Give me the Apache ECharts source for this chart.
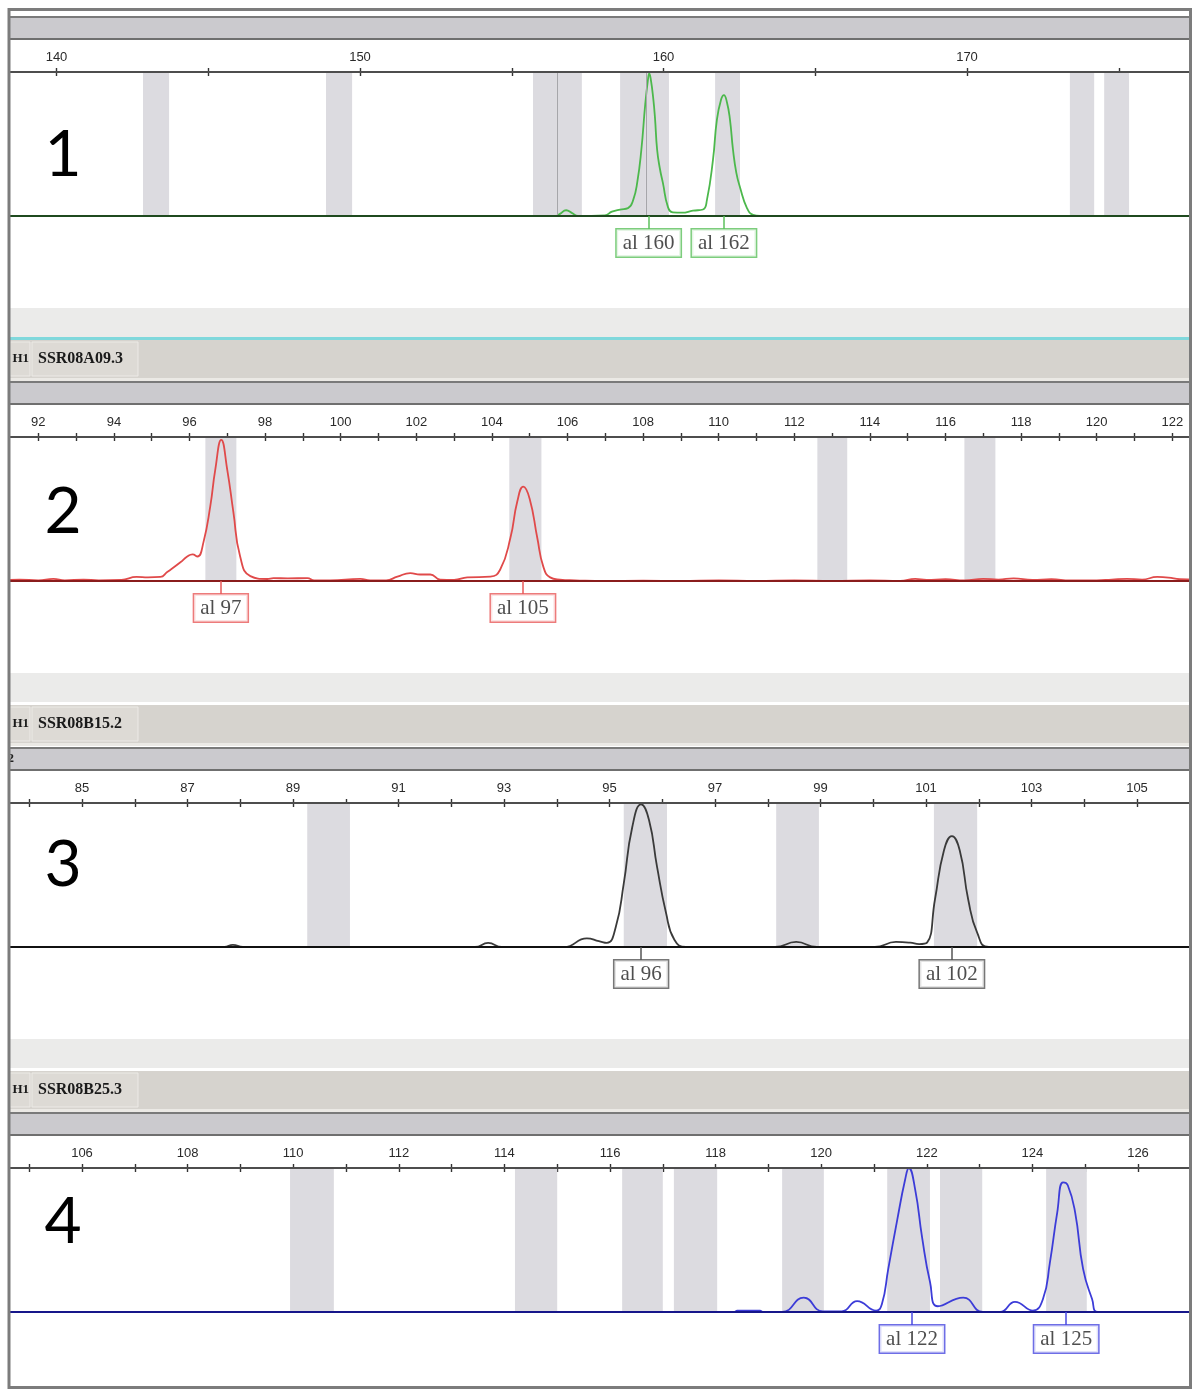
<!DOCTYPE html>
<html><head><meta charset="utf-8">
<script src="https://cdn.jsdelivr.net/npm/echarts@6/dist/echarts.min.js"></script>
<style>html,body{margin:0;padding:0;background:#fff}#c{width:1200px;height:1399px}</style>
</head><body><div id="c"></div>
<script>
// ---------------- DATA ----------------
const panelNumbers = ['1', '2', '3', '4'];
const markerNames = ['SSR08A09.3', 'SSR08B15.2', 'SSR08B25.3'];

// axis ranges (size in bp)
const axisMin = [135, 91, 83, 104];
const axisMax = [180, 123, 107, 128];
const tickStep = [5, 1, 1, 1];
const labelStep = [10, 2, 2, 2];
const labelBase = [140, 92, 85, 106];

// traces: [size, relative fluorescence]
const trace1 = [[135,0],[156.43,0],[156.59,1.5],[156.79,4],[156.99,2],[157.18,0],[158.07,0.5],[158.30,3],[158.57,4.5],[158.83,5.5],
 [159.0,11],[159.14,24],[159.27,46],[159.40,78],[159.49,95],[159.53,99],[159.58,95],[159.66,82],[159.72,68],[159.79,46],[159.88,33],[159.98,23],[160.15,6],[160.31,2.5],
 [160.61,2.3],[160.97,3.7],[161.30,4.5],[161.43,11],[161.63,39],[161.76,67],[161.90,81],[161.99,84],[162.09,79],[162.19,67],[162.29,46],[162.40,30],[162.52,20],[162.75,5.5],[162.95,0.8],[163.18,0],[180,0]];
const trace2 = [[91,0.5],[91.5,1],[92.0,0.5],[92.4,1.5],[92.7,0.5],[93.2,1],[93.6,0.5],[94.2,0.8],[94.6,2.8],[94.9,2.5],[95.23,2.8],[95.41,6.2],[95.76,13],[95.94,17],[96.08,18.5],[96.21,17],
 [96.37,27],[96.55,52],[96.68,77],[96.84,98],[97.0,77],[97.16,48],[97.34,17],[97.61,3.4],[98.06,1.4],[98.22,2],[98.6,1.8],[99.12,2],[99.3,0.5],[99.72,0.5],[100.52,1.5],[100.78,0.5],
 [101.2,0.5],[101.5,3],[101.84,5.5],[102.1,4.5],[102.37,4.5],[102.63,1],[103.0,0.8],[103.35,2.5],[103.96,3],[104.22,8],[104.49,30],[104.67,55],[104.83,65.5],[105.0,57],[105.2,30],
 [105.36,10],[105.54,2.5],[105.8,1],[106.2,0.5],[107,0],[108,0.3],[109,0],[110,0.4],[111,0],[112,0.5],[113,0],[114,0.4],[114.8,0],[115.2,1.5],[115.5,0.8],[116,1.2],[116.5,0.5],
 [117.0,1.5],[117.4,1],[117.8,1.8],[118.3,0.8],[118.8,1.2],[119.3,0.5],[120.0,0.5],[120.4,1],[120.8,1.5],[121.2,1.0],[121.6,2.8],[121.9,2.4],[122.2,1.2],[122.6,1],[123,0.5]];
const trace3 = [[83,0],[87.7,0],[87.86,1.5],[88.05,0],[92.45,0],[92.70,2.8],[92.96,0],[94.14,0],[94.57,6],[94.80,4],[94.95,2.8],[95.12,14],[95.27,44],[95.43,83],[95.60,99],[95.75,88],
 [95.90,56],[96.07,24],[96.23,5],[96.45,0],[98.14,0],[98.54,3.5],[98.93,0],[100.03,0],[100.43,3.5],[100.7,3],[100.87,2],[101.02,3],[101.17,33],[101.34,67],[101.49,77],[101.64,67],
 [101.80,33],[101.97,10],[102.19,0],[107,0]];
const trace4 = [[104,0],[118.35,0],[118.41,1],[118.84,1],[118.9,0],[119.26,0],[119.67,10],[120.03,0.5],[120.39,0.5],[120.68,7.6],[121.04,1],[121.15,5.5],[121.27,30],[121.44,64],
 [121.59,92],[121.66,100],[121.78,85],[121.91,52],[122.06,21],[122.21,4],[122.69,10],[123.06,0],[123.39,0],[123.67,7],[124.01,1],[124.20,9],[124.33,34],[124.47,69],[124.58,90],
 [124.67,88],[124.81,69],[124.96,30],[125.13,9],[125.24,0],[128,0]];

// allele bins [from, to]
const bins1 = [[142.85,143.71],[148.88,149.74],[155.70,156.49],[156.49,157.31],[158.57,159.42],[159.42,160.18],[161.70,162.52],[173.39,174.19],[174.52,175.34]];
const dividers1 = [156.49, 159.42];
const bins2 = [[96.42,97.24],[104.46,105.31],[112.61,113.40],[116.50,117.32]];
const bins3 = [[89.27,90.08],[95.27,96.09],[98.16,98.97],[101.15,101.97]];
const bins4 = [[109.94,110.77],[114.20,115.0],[116.23,117.0],[117.21,118.03],[119.26,120.05],[121.25,122.06],[122.25,123.05],[124.26,125.03]];

// called alleles [size, label]
const alleles1 = [[159.51,'al 160'],[161.99,'al 162']];
const alleles2 = [[96.83,'al 97'],[104.82,'al 105']];
const alleles3 = [[95.60,'al 96'],[101.49,'al 102']];
const alleles4 = [[121.72,'al 122'],[124.64,'al 125']];

// ---------------- LAYOUT / STYLE ----------------
const traces = [trace1, trace2, trace3, trace4];
const binsAll = [bins1, bins2, bins3, bins4];
const dividersAll = [dividers1, [], [], []];
const allelesAll = [alleles1, alleles2, alleles3, alleles4];

const axisY = [72, 437, 803, 1168];
const refPx = [56.5, 38.3, 82, 82];
const ppu = [30.35, 37.8, 52.75, 52.8];
const traceColor = ['#4cb84c', '#e04a4a', '#3a3a3a', '#3c3cd8'];
const baseColor = ['#1f4a1f', '#8a1c1c', '#111111', '#16168a'];
const boxColor = ['#5cc05c', '#e85a5a', '#555555', '#4a4ae0'];
const numberY = [155, 512, 865, 1222];

const Y_MIN = -25, Y_MAX = 100;
const grids = [], xAxes = [], yAxes = [], series = [], graphics = [];

for (let i = 0; i < 4; i++) {
  const A = axisY[i];
  const left = refPx[i] - (labelBase[i] - axisMin[i]) * ppu[i];
  const width = (axisMax[i] - axisMin[i]) * ppu[i];
  grids.push({left: left, top: A, width: width, height: 180, containLabel: false, outerBoundsMode: 'none'});
  const base = labelBase[i], ls = labelStep[i];
  xAxes.push({
    type: 'value', gridIndex: i, position: 'top', offset: -4,
    min: axisMin[i], max: axisMax[i], interval: tickStep[i],
    axisLine: {show: false, onZero: false},
    axisTick: {show: true, length: 8, lineStyle: {color: '#333', width: 1.4}},
    axisLabel: {show: true, margin: 12, fontSize: 13, fontFamily: 'Liberation Sans', color: '#2a2a2a',
      formatter: function (v) { const r = Math.abs((v - base) % ls); return (r < 1e-6 || Math.abs(r - ls) < 1e-6) ? String(Math.round(v)) : ''; }},
    splitLine: {show: false}
  });
  yAxes.push({type: 'value', gridIndex: i, min: Y_MIN, max: Y_MAX, show: false, splitLine: {show: false}});

  // bins + dividers
  series.push({
    type: 'line', xAxisIndex: i, yAxisIndex: i, data: [], silent: true, z: 1,
    markArea: {silent: true, itemStyle: {color: '#dcdbe0'},
      data: binsAll[i].map(b => [{xAxis: b[0], yAxis: 0}, {xAxis: b[1], yAxis: Y_MAX}])},
    markLine: {silent: true, symbol: 'none', label: {show: false}, animation: false,
      lineStyle: {color: '#a6a6aa', width: 1, type: 'solid'},
      data: dividersAll[i].map(d => [{coord: [d, 0]}, {coord: [d, Y_MAX]}])}
  });
  // top axis line
  series.push({
    type: 'line', xAxisIndex: i, yAxisIndex: i, data: [], silent: true, z: 2,
    markLine: {silent: true, symbol: 'none', label: {show: false}, animation: false,
      lineStyle: {color: '#4d4d4d', width: 2, type: 'solid'}, data: [{yAxis: Y_MAX}]}
  });
  // trace
  series.push({
    type: 'line', xAxisIndex: i, yAxisIndex: i, data: traces[i], symbol: 'none', showSymbol: false,
    smooth: 0.5, silent: true, z: 3,
    lineStyle: {color: traceColor[i], width: 1.8}
  });
  // baseline
  series.push({
    type: 'line', xAxisIndex: i, yAxisIndex: i, data: [], silent: true, z: 4,
    markLine: {silent: true, symbol: 'none', label: {show: false}, animation: false,
      lineStyle: {color: baseColor[i], width: 2, type: 'solid'}, data: [{yAxis: 0}]}
  });
  // connectors
  series.push({
    type: 'line', xAxisIndex: i, yAxisIndex: i, data: [], silent: true, z: 4,
    markLine: {silent: true, symbol: 'none', label: {show: false}, animation: false,
      lineStyle: {color: boxColor[i], width: 1.5, type: 'solid'},
      data: allelesAll[i].map(a => [{coord: [a[0], 0]}, {coord: [a[0], -9]}])}
  });
  // allele label boxes
  series.push({
    type: 'scatter', xAxisIndex: i, yAxisIndex: i, silent: true, z: 5,
    data: allelesAll[i].map(a => [a[0], -9, a[1]]),
    symbolSize: 1, itemStyle: {color: 'rgba(0,0,0,0)'},
    label: {show: true, position: 'bottom', distance: 0,
      formatter: p => p.value[2],
      fontFamily: 'Liberation Serif', fontSize: 21, lineHeight: 24, color: '#222',
      borderColor: boxColor[i], borderWidth: 1.5, padding: [2, 6, 1, 6], backgroundColor: '#fff'}
  });

  // chrome: toolbar above the axis
  graphics.push({type: 'rect', shape: {x: 10, y: A - 56, width: 1180, height: 2}, style: {fill: '#7a7a7a'}, z: 50});
  graphics.push({type: 'rect', shape: {x: 10, y: A - 54, width: 1180, height: 20}, style: {fill: '#cbcace'}, z: 50});
  graphics.push({type: 'rect', shape: {x: 10, y: A - 34, width: 1180, height: 2}, style: {fill: '#6f6f6f'}, z: 50});
  // panel number
  graphics.push({type: 'text', x: 63, y: numberY[i], z: 60,
    style: {text: panelNumbers[i], font: '64px Lato', fill: '#000', textAlign: 'center', textVerticalAlign: 'middle'}});
  if (i < 3) {
    graphics.push({type: 'rect', shape: {x: 10, y: A + 236, width: 1180, height: 29}, style: {fill: '#ebebea'}, z: 50});
    if (i === 0) graphics.push({type: 'rect', shape: {x: 10, y: A + 265, width: 1180, height: 3}, style: {fill: '#80d8dc'}, z: 50});
    graphics.push({type: 'rect', shape: {x: 10, y: A + 268, width: 1180, height: 38}, style: {fill: '#d6d3ce'}, z: 50});
    graphics.push({type: 'rect', shape: {x: 10, y: A + 306, width: 1180, height: 3}, style: {fill: '#ebe9e5'}, z: 50});
    graphics.push({type: 'rect', shape: {x: 10, y: A + 270, width: 20, height: 34}, style: {fill: '#dddad5', stroke: '#eceae6', lineWidth: 1}, z: 51});
    graphics.push({type: 'rect', shape: {x: 32, y: A + 270, width: 106, height: 34}, style: {fill: '#dddad5', stroke: '#eceae6', lineWidth: 1}, z: 51});
    graphics.push({type: 'text', x: 29, y: A + 287, z: 52,
      style: {text: 'H1', font: 'bold 13px "Liberation Serif"', fill: '#1a1a1a', textAlign: 'right', textVerticalAlign: 'middle'}});
    graphics.push({type: 'text', x: 38, y: A + 287, z: 52,
      style: {text: markerNames[i], font: 'bold 16px "Liberation Serif"', fill: '#1a1a1a', textAlign: 'left', textVerticalAlign: 'middle'}});
  }
  if (i === 2) {
    graphics.push({type: 'text', x: 14, y: A - 44, z: 52,
      style: {text: '2', font: 'bold 13px "Liberation Serif"', fill: '#222', textAlign: 'right', textVerticalAlign: 'middle'}});
  }
}
// masks outside the frame and the frame itself
graphics.push({type: 'rect', shape: {x: 0, y: 0, width: 8, height: 1399}, style: {fill: '#fff'}, z: 90});
graphics.push({type: 'rect', shape: {x: 1192, y: 0, width: 8, height: 1399}, style: {fill: '#fff'}, z: 90});
graphics.push({type: 'rect', shape: {x: 9, y: 9.5, width: 1181.5, height: 1378}, style: {fill: 'none', stroke: '#7c7c7c', lineWidth: 3}, z: 95});

const chart = echarts.init(document.getElementById('c'));
chart.setOption({
  animation: false,
  backgroundColor: '#fff',
  grid: grids, xAxis: xAxes, yAxis: yAxes, series: series,
  graphic: {elements: graphics}
});
</script>
</body></html>
